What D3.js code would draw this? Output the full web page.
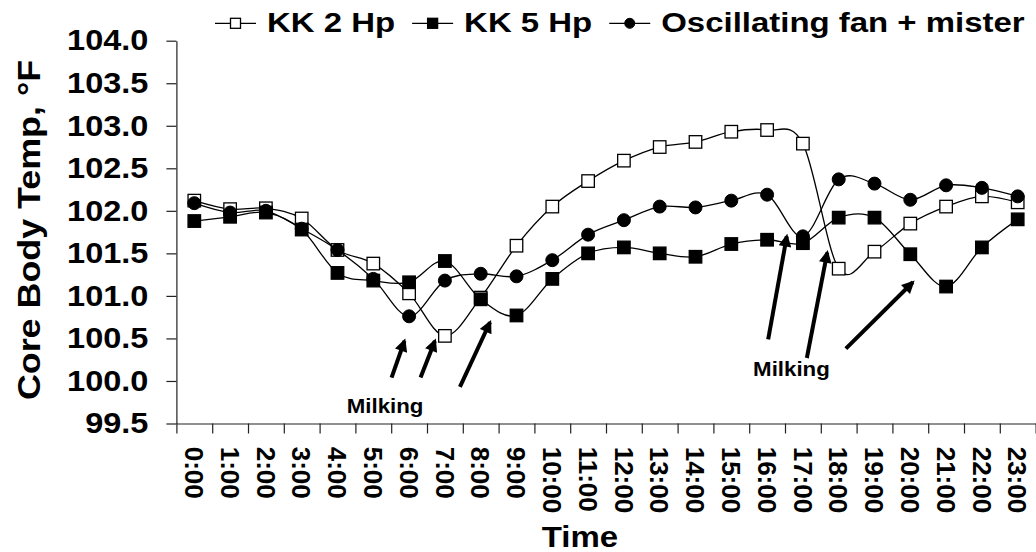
<!DOCTYPE html>
<html><head><meta charset="utf-8">
<script src="https://cdn.jsdelivr.net/npm/d3@7"></script>
<style>
html,body{margin:0;padding:0;background:#fff;}
svg{display:block;font-family:"Liberation Sans",Arial,Helvetica,sans-serif;font-weight:bold;}
</style></head><body>
<svg id="chart" width="1036" height="552"></svg>
<script>
// ---------- data ----------
const hours = ["0:00","1:00","2:00","3:00","4:00","5:00","6:00","7:00","8:00","9:00","10:00","11:00",
               "12:00","13:00","14:00","15:00","16:00","17:00","18:00","19:00","20:00","21:00","22:00","23:00"];
const kk2Hp = [102.12,102.02,102.03,101.91,101.54,101.38,101.03,100.53,100.98,101.59,102.05,102.35,
               102.59,102.75,102.81,102.93,102.95,102.79,101.32,101.52,101.85,102.05,102.17,102.10];
const kk5Hp = [101.88,101.93,101.98,101.78,101.27,101.18,101.16,101.41,100.96,100.77,101.20,101.50,
               101.57,101.50,101.46,101.61,101.66,101.62,101.92,101.92,101.49,101.11,101.57,101.90];
const fanMister = [102.09,101.98,102.00,101.79,101.54,101.20,100.76,101.18,101.26,101.23,101.42,101.72,
                   101.89,102.05,102.04,102.12,102.19,101.70,102.37,102.32,102.13,102.30,102.27,102.17];
const seriesNames = ["KK 2 Hp","KK 5 Hp","Oscillating fan + mister"];
const yTicks = [99.5,100.0,100.5,101.0,101.5,102.0,102.5,103.0,103.5,104.0];
const yTitle = "Core Body Temp, °F";
const xTitle = "Time";
// annotations in data units: [hour index, temperature]
const arrowFrom = [[5.51,100.04],[6.32,100.04],[7.42,99.93],[16.03,100.49],[17.11,100.27],[18.20,100.38]];
const arrowTo   = [[5.87,100.47],[6.72,100.47],[8.26,100.69],[16.55,101.70],[17.68,101.51],[20.07,101.16]];
const noteText = ["Milking","Milking"];
const noteAt = [[5.33,99.62],[16.68,100.06]];

// ---------- layout ----------
const svg = d3.select("#chart");
const L = 176.4, R = 1035.6, T = 40.7, B = 423.5;
const x = d3.scaleBand().domain(hours).range([L,R]).padding(0);
const xc = h => x(h) + x.bandwidth()/2;
const xb = d3.scaleLinear().domain([0,hours.length]).range([L,R]);
const xi = d3.scaleLinear().domain([0,hours.length-1]).range([xc(hours[0]), xc(hours[hours.length-1])]);
const y = d3.scaleLinear().domain([99.5,104]).range([B,T]);

function stretch(sel, sx){
  let out = 0;
  sel.each(function(){
    const len = this.getComputedTextLength();
    this.setAttribute("lengthAdjust","spacingAndGlyphs");
    this.setAttribute("textLength", len*sx);
    out = len*sx;
  });
  return out;
}

// y axis
const gy = svg.append("g").attr("transform",`translate(${L},0)`)
  .call(d3.axisLeft(y).tickValues(yTicks).tickSize(10).tickSizeOuter(0).tickPadding(18).tickFormat(d3.format(".1f")));
gy.selectAll("text").attr("font-size",29).attr("fill","#000").attr("font-weight","bold")
  .attr("font-family","'Liberation Sans',Arial,sans-serif");
gy.selectAll("line,path").attr("stroke","#222").attr("stroke-width",1.2);
stretch(gy.selectAll("text"),1.12);

// x axis (ticks at category boundaries)
const gx = svg.append("g").attr("transform",`translate(0,${B})`)
  .call(d3.axisBottom(xb).tickValues(d3.range(hours.length+1)).tickSize(10).tickSizeOuter(0).tickFormat(() => ""));
gx.selectAll("line,path").attr("stroke","#222").attr("stroke-width",1.2);

// x labels
const gxl = svg.append("g").attr("transform",`translate(0,${B})`)
  .call(d3.axisBottom(x).tickSize(0).tickPadding(0));
gxl.select(".domain").remove();
gxl.selectAll("text")
  .attr("font-size",26).attr("fill","#000").attr("font-weight","bold")
  .attr("font-family","'Liberation Sans',Arial,sans-serif")
  .attr("text-anchor","start")
  .attr("transform","translate(0,23.2) rotate(90)")
  .attr("x",0).attr("y",0).attr("dy","0.36em");

// axis titles
const yt = svg.append("text").attr("transform","translate(39.5,230) rotate(-90)")
  .attr("text-anchor","middle").attr("font-size",32).attr("fill","#000").text(yTitle);
stretch(yt,1.12);
const xt = svg.append("text").attr("x",580).attr("y",547)
  .attr("text-anchor","middle").attr("font-size",30).attr("fill","#000").text(xTitle);
stretch(xt,1.1);

// series
const series = [
  {name:seriesNames[0], values:kk2Hp, shape:"square", fill:"#fff"},
  {name:seriesNames[1], values:kk5Hp, shape:"square", fill:"#000"},
  {name:seriesNames[2], values:fanMister, shape:"circle", fill:"#000"}
];
const line = d3.line().x((d,i) => xc(hours[i])).y(d => y(d)).curve(d3.curveCatmullRom.alpha(0));

function marker(g, s, cx, cy, size){
  if (s.shape === "circle") {
    g.append("circle").attr("cx",cx).attr("cy",cy).attr("r",size/2)
      .attr("fill",s.fill).attr("stroke","#000").attr("stroke-width",1);
  } else {
    g.append("rect").attr("x",cx-size/2).attr("y",cy-size/2).attr("width",size).attr("height",size)
      .attr("fill",s.fill).attr("stroke","#000").attr("stroke-width",1.3);
  }
}

series.forEach(s => {
  const g = svg.append("g");
  g.append("path").datum(s.values).attr("d",line).attr("fill","none").attr("stroke","#000").attr("stroke-width",1.3);
  s.values.forEach((v,i) => marker(g, s, xc(hours[i]), y(v), s.shape==="circle" ? 13 : 12.5));
});

// arrows
const defs = svg.append("defs");
defs.append("marker").attr("id","ah").attr("viewBox","0 0 10 10").attr("refX",8).attr("refY",5)
  .attr("markerWidth",3.6).attr("markerHeight",3.2).attr("orient","auto").attr("markerUnits","strokeWidth")
  .append("path").attr("d","M0,0 L10,5 L0,10 z").attr("fill","#000");
arrowFrom.forEach((f,i) => {
  const t = arrowTo[i];
  svg.append("line").attr("x1",xi(f[0])).attr("y1",y(f[1])).attr("x2",xi(t[0])).attr("y2",y(t[1]))
    .attr("stroke","#000").attr("stroke-width",4).attr("marker-end","url(#ah)");
});
noteText.forEach((txt,i) => {
  const tn = svg.append("text").attr("x",xi(noteAt[i][0])).attr("y",y(noteAt[i][1]))
    .attr("text-anchor","middle").attr("font-size",21).attr("fill","#000").text(txt);
  stretch(tn,1.06);
});

// legend
const lg = svg.append("g");
let lx = 215;
const ly = 23.3;
series.forEach((s,i) => {
  lg.append("line").attr("x1",lx).attr("x2",lx+41).attr("y1",ly).attr("y2",ly).attr("stroke","#000").attr("stroke-width",1.3);
  marker(lg, s, lx+20.5, ly, 10);
  const t = lg.append("text").attr("x",lx+52).attr("y",32).attr("font-size",27).attr("fill","#000").text(s.name);
  const w = stretch(t,1.22);
  lx = lx + 52 + w + 17;
});
</script>
</body></html>
